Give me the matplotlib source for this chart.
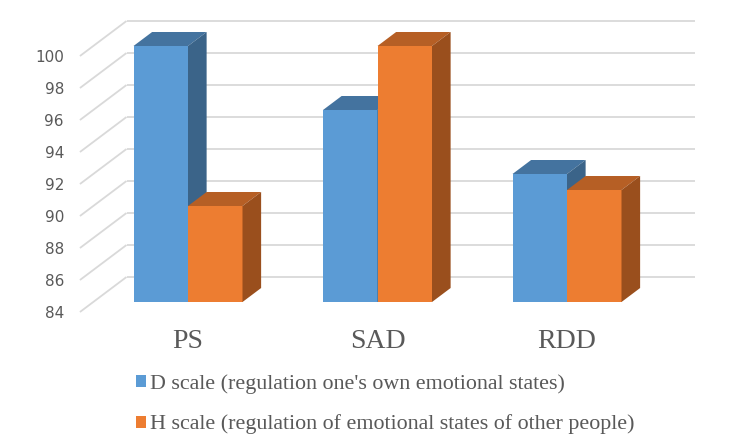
import matplotlib
matplotlib.use("Agg")
import matplotlib.pyplot as plt
from matplotlib.patches import Polygon, Patch
import numpy as np

# ---- data ----
categories = ["PS", "SAD", "RDD"]
d_scale = [100, 96, 92]
h_scale = [90, 100, 91]
series_names = ["D scale (regulation one's own emotional states)",
                "H scale (regulation of emotional states of other people)"]
y_ticks = [84, 86, 88, 90, 92, 94, 96, 98, 100]

# ---- style ----
BLUE = ("#5B9BD5", "#44739F", "#3B6489")    # front, top, side
ORANGE = ("#ED7D31", "#B65F25", "#9A4F1D")
GRID = "#D9D9D9"
TXT = "#595959"
BASE = 84

W, H, DPI = 7.29, 4.41, 100
fig = plt.figure(figsize=(W, H), dpi=DPI)
ax = fig.add_axes([0, 0, 1, 1])
ax.set_axis_off()

# pixel geometry of the front plane of the bars
px_per_cat = 189.5
x0_px = 188.0
px_per_val = 16.0
base_px_from_top = 302.0
ax.set_xlim(-x0_px / px_per_cat, (W * DPI - x0_px) / px_per_cat)
ax.set_ylim(BASE - (H * DPI - base_px_from_top) / px_per_val,
            BASE + base_px_from_top / px_per_val)

SLOPE = 1.33  # horizontal px per vertical px of depth


def off(x, y, k):
    """Shift a data point backwards in depth by k pixels (oblique projection)."""
    disp = ax.transData.transform((x, y))
    disp = disp + np.array([SLOPE * k, k])
    return ax.transData.inverted().transform(disp)


WALL_K = 25
FRONT_K = -10
BAR_K = 14
n = len(categories)
xl, xr = -0.5, n - 0.5

# back wall gridlines and side diagonals
for v in y_ticks:
    a = off(xl, v, WALL_K)
    b = off(xr, v, WALL_K)
    ax.plot([a[0], b[0]], [a[1], b[1]], color=GRID, lw=1.3, zorder=1,
            solid_capstyle="butt")
    f = off(xl, v, FRONT_K)
    ax.plot([f[0], a[0]], [f[1], a[1]], color=GRID, lw=1.3, zorder=1,
            solid_capstyle="butt")
    ax.annotate(f"{v}", xy=(f[0], f[1]), xytext=(-16, -1),
                textcoords="offset pixels", ha="right", va="center",
                fontsize=11, color=TXT, family="DejaVu Sans")

bw = 54.5 / px_per_cat
xs = np.arange(n)


def bar3d(xc, v, cols, z):
    x0, x1 = xc - bw / 2, xc + bw / 2
    ax.bar([xc], [v - BASE], bottom=BASE, width=bw, color=cols[0],
           linewidth=0, zorder=z)
    top = [(x0, v), (x1, v), tuple(off(x1, v, BAR_K)), tuple(off(x0, v, BAR_K))]
    ax.add_patch(Polygon(top, closed=True, facecolor=cols[1], edgecolor="none",
                         zorder=z))
    side = [(x1, BASE), (x1, v), tuple(off(x1, v, BAR_K)), tuple(off(x1, BASE, BAR_K))]
    ax.add_patch(Polygon(side, closed=True, facecolor=cols[2], edgecolor="none",
                         zorder=z))


z = 2
for i in range(n):
    bar3d(xs[i] - bw / 2, d_scale[i], BLUE, z)
    z += 1
    bar3d(xs[i] + bw / 2, h_scale[i], ORANGE, z)
    z += 1

# category labels
for i, c in enumerate(categories):
    ax.annotate(c, xy=(xs[i], BASE), xytext=(0, -40), textcoords="offset pixels",
                ha="center", va="center", fontsize=20, color=TXT,
                family="Liberation Serif")

handles = [Patch(facecolor=BLUE[0], edgecolor="none"),
           Patch(facecolor=ORANGE[0], edgecolor="none")]
leg = ax.legend(handles, series_names, loc="upper left",
                bbox_to_anchor=(136 / (W * DPI), 1 - 374 / (H * DPI)),
                frameon=False, borderpad=0, borderaxespad=0,
                handlelength=0.45, handleheight=0.45, handletextpad=0.18,
                labelspacing=0.95,
                prop={"family": "Liberation Serif", "size": 15.8})
for t in leg.get_texts():
    t.set_color(TXT)

fig.savefig("out.png", dpi=DPI, facecolor="white")
